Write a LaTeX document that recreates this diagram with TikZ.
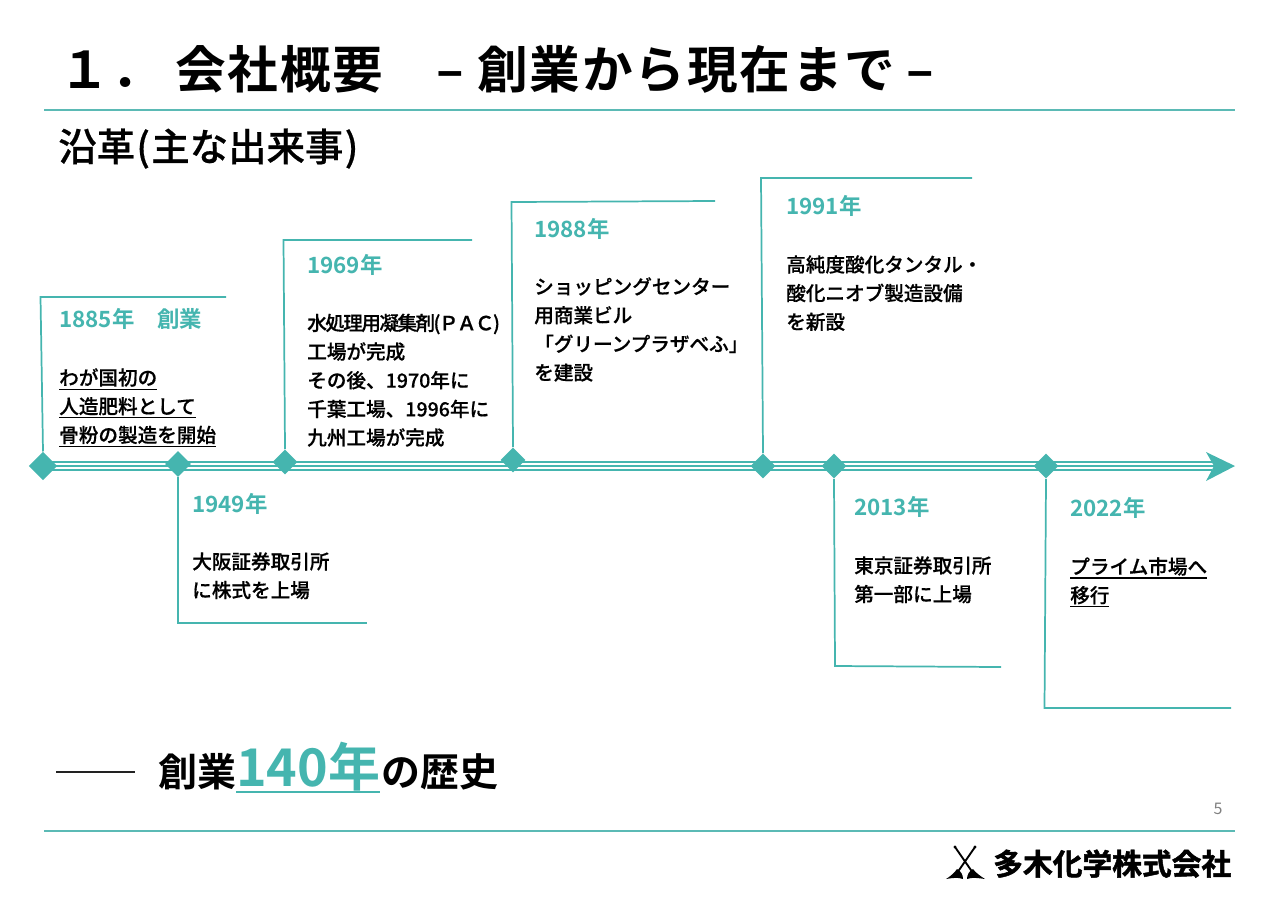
\documentclass[tikz,border=0pt]{standalone}
\usepackage{fontspec}
\usetikzlibrary{shapes.geometric}
\setmainfont{Noto Sans CJK JP}[BoldFont={Noto Sans CJK JP Bold}]
\newfontfamily\jpb{Noto Sans CJK JP Bold}
\newfontfamily\jpm{Noto Sans CJK JP Medium}[FakeBold=0.5]
\newfontfamily\jptight{Noto Sans CJK JP Medium}[LetterSpace=-8,FakeBold=0.5]
\newfontfamily\jptitle{Noto Sans CJK JP Bold}[LetterSpace=3.6]
\newfontfamily\jplogo{Noto Sans CJK JP Bold}[FakeBold=1.6]
\newfontfamily\jpreg{Noto Sans CJK JP}
\definecolor{tealmain}{HTML}{45B5AF}
\definecolor{rulecol}{HTML}{5BBAB5}
\definecolor{inkline}{HTML}{222222}
\newcommand\ulx[2]{\setbox0\hbox{#2}\rlap{\rule[-#1]{\wd0}{0.9pt}}\box0}
\tikzset{
 x=0.75pt,y=-0.75pt,
 yeartext/.style={anchor=west,inner sep=0,text=tealmain,font=\jpb\fontsize{16.8}{18}\selectfont},
 bodytext/.style={anchor=north west,inner sep=0,align=left,text=black,font=\jpm\fontsize{14.7}{21.5}\selectfont},
 mark diamond/.style={shape=diamond,fill=tealmain,draw=none,inner sep=0,minimum width=#1,minimum height=#1},
 callout/.style={draw=tealmain,line width=1.3pt,line join=miter},
 axisline/.style={draw=tealmain,line width=1.1pt},
 framerule/.style={draw=rulecol,line width=1.4pt},
}
\begin{document}
\begin{tikzpicture}
\useasboundingbox (0,0) rectangle (1280,904);
% rules
\coordinate (r1a) at (44,110); \coordinate (r1b) at (1235,110);
\coordinate (r2a) at (44,831); \coordinate (r2b) at (1235,831);
\draw[framerule] (r1a) -- (r1b);
\draw[framerule] (r2a) -- (r2b);
% titles
\node[anchor=base west,inner sep=0,font=\jptitle\fontsize{38}{40}\selectfont] (title) at (59,88) {１．\hspace{9.5pt}会社概要\hspace{40pt}–\hspace{10pt}創業から現在まで\hspace{8pt}–};
\node[anchor=base west,inner sep=0,font=\jpm\fontsize{28.8}{32}\selectfont] (sect) at (58,161) {沿革\hspace{1pt}(\hspace{1pt}主な出来事\hspace{1pt})};
% axis
\coordinate (a1s) at (43,462); \coordinate (a1e) at (1212,462);
\coordinate (a2s) at (43,466); \coordinate (a2e) at (1216,466);
\coordinate (a3s) at (43,470); \coordinate (a3e) at (1212,470);
\draw[axisline] (a1s) -- (a1e);
\draw[axisline] (a2s) -- (a2e);
\draw[axisline] (a3s) -- (a3e);
\fill[tealmain] (1235,466) -- (1206,452) -- (1214,466) -- (1206,481) -- cycle;
% diamonds
\node[mark diamond=28.5pt*0.75] (d1) at (43,466) {};
\node[mark diamond=26pt*0.75] (d2) at (178,464) {};
\node[mark diamond=25pt*0.75] (d3) at (285,462) {};
\node[mark diamond=25pt*0.75] (d4) at (513,460) {};
\node[mark diamond=25pt*0.75] (d5) at (763,466) {};
\node[mark diamond=25pt*0.75] (d6) at (834,466) {};
\node[mark diamond=25pt*0.75] (d7) at (1046,466) {};
% callouts
\coordinate (c1a) at (40.5,297); \coordinate (c1b) at (226,297);
\coordinate (c2a) at (178,623); \coordinate (c2b) at (367,623);
\coordinate (c3a) at (283.5,240); \coordinate (c3b) at (472,240);
\coordinate (c4a) at (511.5,202); \coordinate (c4b) at (715,201);
\coordinate (c5a) at (761,178); \coordinate (c5b) at (972,178);
\coordinate (c6a) at (835,666); \coordinate (c6b) at (1001,667);
\coordinate (c7a) at (1044.5,708); \coordinate (c7b) at (1231,708);
\draw[callout] (d1.north) -- (c1a) -- (c1b);
\draw[callout] (d2.south) -- (c2a) -- (c2b);
\draw[callout] (d3.north) -- (c3a) -- (c3b);
\draw[callout] (d4.north) -- (c4a) -- (c4b);
\draw[callout] (d5.north) -- (c5a) -- (c5b);
\draw[callout] (d6.south) -- (c6a) -- (c6b);
\draw[callout] (d7.south) -- (c7a) -- (c7b);
% labels
\node[yeartext] (y1) at (59,319) {1885年\hspace{17pt}創業};
\node[bodytext] (b1) at (59,368) {\ulx{3.5pt}{わが国初の}\\\ulx{3.5pt}{人造肥料として}\\\ulx{3.5pt}{骨粉の製造を開始}};
\node[yeartext] (y2) at (192,504) {1949年};
\node[bodytext] (b2) at (192,552) {大阪証券取引所\\に株式を上場};
\node[yeartext] (y3) at (307,265) {1969年};
\node[bodytext] (b3) at (307,313.5) {{\jptight 水処理用凝集剤(ＰＡＣ)}\\工場が完成\\その後、1970年に\\千葉工場、1996年に\\九州工場が完成};
\node[yeartext] (y4) at (534,229) {1988年};
\node[bodytext] (b4) at (534,277) {ショッピングセンター\\用商業ビル\\「グリーンプラザべふ」\\を建設};
\node[yeartext] (y5) at (786,206) {1991年};
\node[bodytext] (b5) at (786,255) {高純度酸化タンタル・\\酸化ニオブ製造設備\\を新設};
\node[yeartext] (y6) at (854,507) {2013年};
\node[bodytext] (b6) at (854,556) {東京証券取引所\\第一部に上場};
\node[yeartext] (y7) at (1070,508) {2022年};
\node[bodytext] (b7) at (1070,557) {\ulx{3.5pt}{プライム市場へ}\\\ulx{3.5pt}{移行}};
% history
\coordinate (h1) at (56,772); \coordinate (h2) at (135,772);
\draw[inkline,line width=1.1pt] (h1) -- (h2);
\node[anchor=base west,inner sep=0,font=\jpb\fontsize{29.2}{34}\selectfont] (hist) at (158,786) {創業{\color{tealmain}\fontsize{39}{40}\selectfont\ulx{5pt}{140年}}\hspace{0.8pt}の歴史};
% page number
\node[anchor=center,inner sep=0,text=black!50,font=\jpreg\fontsize{12}{14}\selectfont] (pg) at (1218,809) {5};
% logo
\begin{scope}[black]
\draw[line width=1.4pt] (955,847) -- (973,873);
\draw[line width=1.4pt] (975,847) -- (957,873);
\fill (955,847) circle (1.6);
\fill (975,847) circle (1.6);
\fill (946,879) .. controls (951,876) and (955,872) .. (957,869) .. controls (961,871) and (963,875) .. (963,879) .. controls (958,877) and (952,878) .. cycle;
\fill (985,879) .. controls (980,876) and (975,872) .. (973,869) .. controls (969,871) and (967,875) .. (967,879) .. controls (972,877) and (978,878) .. cycle;
\end{scope}
\node[anchor=base west,inner sep=0,font=\jplogo\fontsize{22.3}{26}\selectfont] (logo) at (993,875) {多木化学株式会社};
\end{tikzpicture}
\end{document}
